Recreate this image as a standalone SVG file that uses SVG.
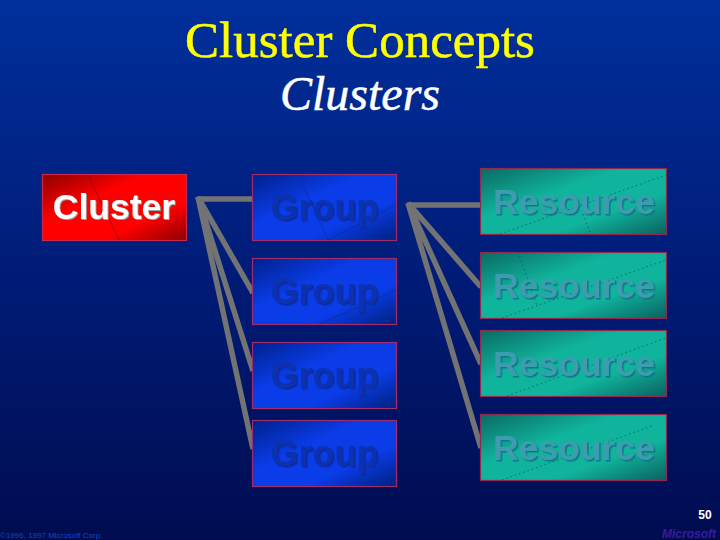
<svg xmlns="http://www.w3.org/2000/svg" width="720" height="540" viewBox="0 0 720 540">
<style>
.t{font-family:"Liberation Serif","Times New Roman",serif;text-anchor:middle;stroke-width:.5}
.n{font-family:"Liberation Sans",Arial,sans-serif;font-weight:bold;font-size:36px;text-anchor:middle}
.box{stroke-width:1.2}
.g{fill:url(#gb);stroke:#a02c6c}
.r{fill:url(#gr);stroke:#8c2a50}
.gt{fill:#0a30b0;filter:url(#sg)}
.rt{fill:#3c9cae;filter:url(#sr)}
.dot{fill:none;stroke:#0a4a50;stroke-width:.7;stroke-dasharray:1.5 3}
.hair{fill:none;stroke:#0a2a90;stroke-width:.6}
#connectors line{stroke:#737373;stroke-width:5.5}
</style>
<defs>
<linearGradient id="bg" x1="0" y1="0" x2="0" y2="1"><stop offset="0" stop-color="#00309c"/><stop offset=".5" stop-color="#001c78"/><stop offset="1" stop-color="#000c50"/></linearGradient>
<linearGradient id="gc" x1="0" y1="0" x2="1" y2="1"><stop offset="0" stop-color="#8c0000"/><stop offset=".36" stop-color="#ff0000"/><stop offset=".7" stop-color="#ff0000"/><stop offset="1" stop-color="#8c0000"/></linearGradient>
<linearGradient id="gb" x1="0" y1="0" x2="1" y2="1"><stop offset="0" stop-color="#00208c"/><stop offset=".38" stop-color="#0a3ce8"/><stop offset=".68" stop-color="#0a3ce8"/><stop offset="1" stop-color="#00207c"/></linearGradient>
<linearGradient id="gr" x1="0" y1="0" x2="1" y2="1"><stop offset="0" stop-color="#0a6a64"/><stop offset=".38" stop-color="#10b49c"/><stop offset=".68" stop-color="#10b49c"/><stop offset="1" stop-color="#0a6060"/></linearGradient>
<filter id="sg" x="-5%" y="-5%" width="110%" height="115%"><feDropShadow dx="1.500" dy="1.500" stdDeviation=".6" flood-color="#0a2a9c"/></filter>
<filter id="sr" x="-5%" y="-5%" width="110%" height="115%"><feDropShadow dx="1.500" dy="1.500" stdDeviation=".5" flood-color="#0e7688"/></filter>
<filter id="sc" x="-5%" y="-5%" width="110%" height="115%"><feDropShadow dx="1" dy="1" stdDeviation=".5" flood-color="#a0a0a0"/></filter>
</defs>
<rect width="720" height="540" fill="url(#bg)"/>
<g id="title">
<text class="t" x="360" y="57" font-size="51" fill="#ffff00" stroke="#ffff00">Cluster Concepts</text>
<text class="t" x="360" y="110" font-size="48" fill="#ffffff" stroke="#ffffff" font-style="italic">Clusters</text>
</g>
<g id="connectors">
<line x1="197" y1="199" x2="253" y2="199"/>
<line x1="198" y1="197" x2="253" y2="293"/>
<line x1="198" y1="197" x2="253" y2="371"/>
<line x1="198" y1="197" x2="253" y2="449"/>
<line x1="407" y1="205" x2="481" y2="205"/>
<line x1="408" y1="203" x2="481" y2="287"/>
<line x1="408" y1="203" x2="481" y2="364"/>
<line x1="408" y1="203" x2="481" y2="448"/>
</g>
<g id="cluster">
<rect x="42.500" y="174.500" width="144" height="66" fill="url(#gc)" stroke="#c8284c" stroke-width="1.200"/>
<path d="M88 175L119 240" fill="none" stroke="#8a0010" stroke-width=".7"/>
<text class="n" x="114" y="219" fill="#ffffff" style="font-size:35.500px;filter:url(#sc)">Cluster</text>
</g>
<g id="group1"><rect class="box g" x="252.500" y="174.500" width="144" height="66"/><path class="hair" d="M299 176L328 240M328 240L396 205"/><text class="n gt" x="324.500" y="220">Group</text></g>
<g id="group2"><rect class="box g" x="252.500" y="258.500" width="144" height="66"/><path class="hair" d="M320 324L396 290"/><text class="n gt" x="324.500" y="304">Group</text></g>
<g id="group3"><rect class="box g" x="252.500" y="342.500" width="144" height="66"/><text class="n gt" x="324.500" y="388">Group</text></g>
<g id="group4"><rect class="box g" x="252.500" y="420.500" width="144" height="66"/><text class="n gt" x="324.500" y="466">Group</text></g>
<g id="resource1"><rect class="box r" x="480.500" y="168.500" width="186" height="66"/><path class="dot" d="M500 234L666 175M583 214L591 234"/><text class="n rt" x="574" y="214" style="font-size:35.500px">Resource</text></g>
<g id="resource2"><rect class="box r" x="480.500" y="252.500" width="186" height="66"/><path class="dot" d="M502 318L666 260M518 252L537 306"/><text class="n rt" x="574" y="298" style="font-size:35.500px">Resource</text></g>
<g id="resource3"><rect class="box r" x="480.500" y="330.500" width="186" height="66"/><path class="dot" d="M507 396L666 338"/><text class="n rt" x="574" y="376" style="font-size:35.500px">Resource</text></g>
<g id="resource4"><rect class="box r" x="480.500" y="414.500" width="186" height="66"/><path class="dot" d="M502 480L652 426"/><text class="n rt" x="574" y="460" style="font-size:35.500px">Resource</text></g>
<g id="footer">
<text x="705" y="519" font-family="Liberation Sans,Arial,sans-serif" font-weight="bold" font-size="12" fill="#ffffff" text-anchor="middle">50</text>
<text x="0" y="538" font-family="Liberation Sans,Arial,sans-serif" font-size="8" fill="#1048cc">©1996, 1997 Microsoft Corp.</text>
<text x="716" y="538" font-family="Liberation Sans,Arial,sans-serif" font-weight="bold" font-style="italic" font-size="12" fill="#3a1aa0" text-anchor="end">Microsoft</text>
</g>
</svg>
